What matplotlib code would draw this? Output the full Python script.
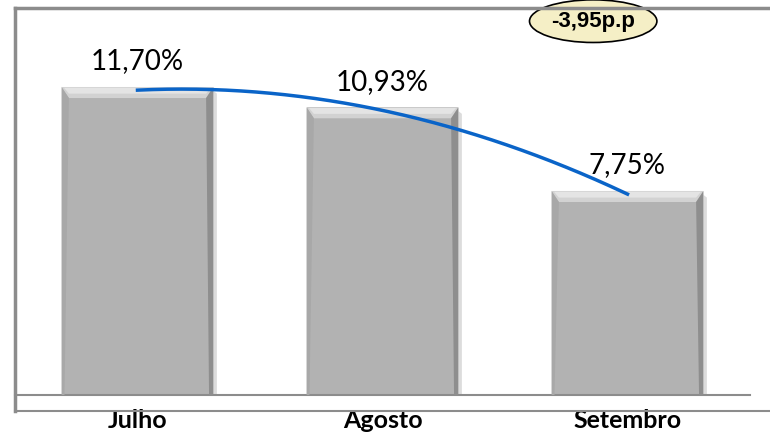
import numpy as np
import matplotlib.pyplot as plt
from matplotlib.patches import Ellipse, Polygon
from matplotlib.lines import Line2D

meses = ["Julho", "Agosto", "Setembro"]
valores = [11.70, 10.93, 7.75]
rotulos = ["11,70%", "10,93%", "7,75%"]
variacao = "-3,95p.p"

fig = plt.figure(figsize=(7.7, 4.38), dpi=100)
ax = fig.add_axes([15/770, 43/438, 735/770, 387/438])

x = np.arange(len(meses))
largura = 0.62
ax.bar(x, valores, width=largura, color="#b2b2b2", edgecolor="none", zorder=2)

# efeito de bisel em cada barra
for xi, v in zip(x, valores):
    l, r = xi - largura/2, xi + largura/2
    bx = 0.03
    by = 0.42
    # sombra leve
    ax.add_patch(Polygon([[r, v - 0.15], [r + 0.014, v - 0.25], [r + 0.014, -0.05], [l + 0.01, -0.05], [l + 0.01, 0], [r, 0]],
                         closed=True, color="#dcdcdc", zorder=1, lw=0))
    ax.add_patch(Polygon([[l, v], [r, v], [r - bx, v - by], [l + bx, v - by]],
                         closed=True, color="#d2d2d2", zorder=3, lw=0))
    ax.add_patch(Polygon([[l + 0.01, v - 0.03], [r - 0.01, v - 0.03], [r - bx, v - by * 0.6], [l + bx, v - by * 0.6]],
                         closed=True, color="#e4e4e4", zorder=3, lw=0))
    ax.add_patch(Polygon([[l, v], [l + bx, v - by], [l + 0.012, 0], [l, 0]],
                         closed=True, color="#a8a8a8", zorder=3, lw=0))
    ax.add_patch(Polygon([[r, v], [r - bx, v - by], [r - 0.018, 0], [r, 0]],
                         closed=True, color="#8e8e8e", zorder=3, lw=0))

# linha de tendencia (polinomial de grau 2)
coef = np.polyfit(x, valores, 2)
xs = np.linspace(0, 2, 200)
ax.plot(xs, np.polyval(coef, xs) - 0.12, color="#0a64c8", lw=2.5, zorder=4)

# rotulos de dados
for xi, v, t in zip(x, valores, rotulos):
    ax.text(xi, v + 0.48, t, ha="center", va="bottom", fontsize=20, family="Lato", zorder=5)

ax.set_xlim(-0.5, 2.5)
ax.set_ylim(0, 14.7)
ax.set_yticks([])
ax.set_xticks(x)
ax.set_xticklabels(meses, fontsize=18, fontweight="bold", family="Lato")
ax.tick_params(axis="x", length=0, pad=10)
for s in ["top", "right", "left"]:
    ax.spines[s].set_visible(False)
ax.spines["bottom"].set_color("#8c8c8c")
ax.spines["bottom"].set_linewidth(1.5)

# moldura do grafico
cinza = "#8c8c8c"
fig.add_artist(Line2D([15/770, 1], [1 - 8/438, 1 - 8/438], color=cinza, lw=2.5))
fig.add_artist(Line2D([15/770, 15/770], [1 - 8/438, 1 - 411/438], color=cinza, lw=2.5))
fig.add_artist(Line2D([15/770, 1], [1 - 411/438, 1 - 411/438], color=cinza, lw=1.5))

# balao da variacao
ax.add_patch(Ellipse((1.86, 14.2), 0.52, 1.62, facecolor="#f5efc6", edgecolor="black",
                     lw=1.2, zorder=6, clip_on=False))
ax.text(1.86, 14.2, variacao, ha="center", va="center", fontsize=16,
        fontweight="bold", family="Liberation Sans", zorder=7)

fig.savefig("out.png", dpi=100)
